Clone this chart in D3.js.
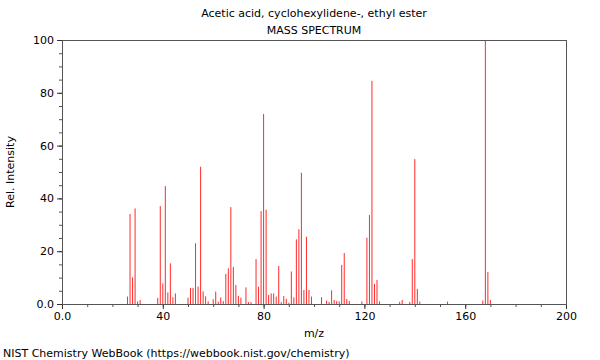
<!DOCTYPE html>
<html>
<head>
<meta charset="utf-8">
<script src="https://cdn.jsdelivr.net/npm/d3@7"></script>
<style>
  body { margin: 0; background: #fff; }
  text { font-family: "DejaVu Sans", sans-serif; fill: #000; }
</style>
</head>
<body>
<div id="chart"></div>
<script>
// peaks
const mz = [26, 27, 28, 29, 30, 31, 38, 39, 40, 41, 42, 43, 44, 45,
  50, 51, 52, 53, 54, 55, 56, 57, 58, 60, 61, 62, 63, 64, 65, 66, 67, 68, 69, 70, 71,
  73, 74, 75, 77, 78, 79, 80, 81, 82, 83, 84, 85, 86, 87, 88, 89, 90,
  91, 92, 93, 94, 95, 96, 97, 98, 99, 103, 105, 106, 107, 108, 109, 110,
  111, 112, 113, 114, 119, 121, 122, 123, 124, 125, 126, 134, 135, 138,
  139, 140, 141, 142, 153, 167, 168, 169, 170];
const intensity = [2.8, 34.1, 10.1, 36.2, 1.0, 1.5, 2.3, 37.1, 7.8, 44.7, 4.4, 15.4, 2.6, 4.0,
  2.4, 6.1, 6.1, 23.0, 6.6, 52.0, 4.8, 2.9, 1.0, 1.8, 4.7, 0.9, 2.5, 1.1, 11.4, 13.5, 36.7, 14.0, 7.2, 3.0, 2.4,
  6.3, 0.7, 0.7, 17.0, 6.6, 35.2, 72.0, 35.7, 3.4, 4.0, 4.0, 2.8, 14.4, 0.7, 3.0, 2.0, 0.5,
  12.3, 2.5, 24.5, 28.3, 49.7, 5.3, 25.5, 5.3, 2.8, 2.6, 1.3, 0.8, 5.2, 1.5, 1.1, 1.0,
  14.8, 19.3, 1.9, 1.2, 1.0, 25.1, 33.7, 84.5, 7.6, 9.1, 1.0, 0.8, 1.5, 0.8,
  17.0, 54.9, 5.7, 0.9, 0.9, 1.3, 100, 12.1, 1.5];
const xTicks = [0, 40, 80, 120, 160, 200];
const yTicks = [0, 20, 40, 60, 80, 100];

const w = 600;
const h = 360;
const margin = { top: 40, right: 34, bottom: 56, left: 62 };

const svg = d3.select('#chart')
  .append('svg')
  .attr('width', w)
  .attr('height', h);

const xScale = d3.scaleLinear()
  .domain([0, 200])
  .range([margin.left, w - margin.right]);

const yScale = d3.scaleLinear()
  .domain([0, 100])
  .range([h - margin.bottom, margin.top]);

const fmt = d => d === 0 ? '0.0' : d3.format('d')(d);

// minor ticks
svg.append('g')
  .attr('transform', 'translate(0,' + (h - margin.bottom) + ')')
  .call(d3.axisBottom(xScale).tickValues(d3.range(0, 201, 10)).tickSize(3).tickFormat(''))
  .call(g => g.select('.domain').remove())
  .attr('color', '#555');

svg.append('g')
  .attr('transform', 'translate(' + margin.left + ',0)')
  .call(d3.axisLeft(yScale).tickValues(d3.range(0, 101, 5)).tickSize(3).tickFormat(''))
  .call(g => g.select('.domain').remove())
  .attr('color', '#555');

// major ticks
svg.append('g')
  .attr('transform', 'translate(0,' + (h - margin.bottom) + ')')
  .call(d3.axisBottom(xScale).tickValues(xTicks).tickSize(5).tickFormat(fmt))
  .call(g => g.select('.domain').remove())
  .attr('color', '#333')
  .attr('font-size', '11')
  .attr('font-family', 'DejaVu Sans');

svg.append('g')
  .attr('transform', 'translate(' + margin.left + ',0)')
  .call(d3.axisLeft(yScale).tickValues(yTicks).tickSize(5).tickFormat(fmt))
  .call(g => g.select('.domain').remove())
  .attr('color', '#333')
  .attr('font-size', '11')
  .attr('font-family', 'DejaVu Sans');

svg.selectAll('.tick text').attr('fill', '#000');

// peaks
svg.selectAll('line.peak')
  .data(mz)
  .enter()
  .append('line')
  .attr('class', 'peak')
  .attr('x1', d => xScale(d))
  .attr('x2', d => xScale(d))
  .attr('y1', yScale(0))
  .attr('y2', (d, i) => yScale(intensity[i]))
  .attr('stroke', '#ff2a2a')
  .attr('stroke-width', 1);

// frame
svg.append('rect')
  .attr('x', margin.left + 0.5)
  .attr('y', margin.top + 0.5)
  .attr('width', w - margin.left - margin.right)
  .attr('height', h - margin.top - margin.bottom)
  .attr('fill', 'none')
  .attr('stroke', '#555')
  .attr('stroke-width', 1);

const cx = (margin.left + w - margin.right) / 2;

svg.append('text')
  .attr('x', cx)
  .attr('y', 17)
  .attr('text-anchor', 'middle')
  .attr('font-size', '11')
  .text('Acetic acid, cyclohexylidene-, ethyl ester');

svg.append('text')
  .attr('x', cx)
  .attr('y', 34)
  .attr('text-anchor', 'middle')
  .attr('font-size', '11')
  .text('MASS SPECTRUM');

svg.append('text')
  .attr('x', cx)
  .attr('y', 337)
  .attr('text-anchor', 'middle')
  .attr('font-size', '11')
  .text('m/z');

svg.append('text')
  .attr('transform', 'translate(14,' + ((margin.top + h - margin.bottom) / 2) + ') rotate(-90)')
  .attr('text-anchor', 'middle')
  .attr('font-size', '11')
  .text('Rel. Intensity');

svg.append('text')
  .attr('x', 3)
  .attr('y', 357)
  .attr('font-size', '11')
  .text('NIST Chemistry WebBook (https://webbook.nist.gov/chemistry)');
</script>
</body>
</html>
